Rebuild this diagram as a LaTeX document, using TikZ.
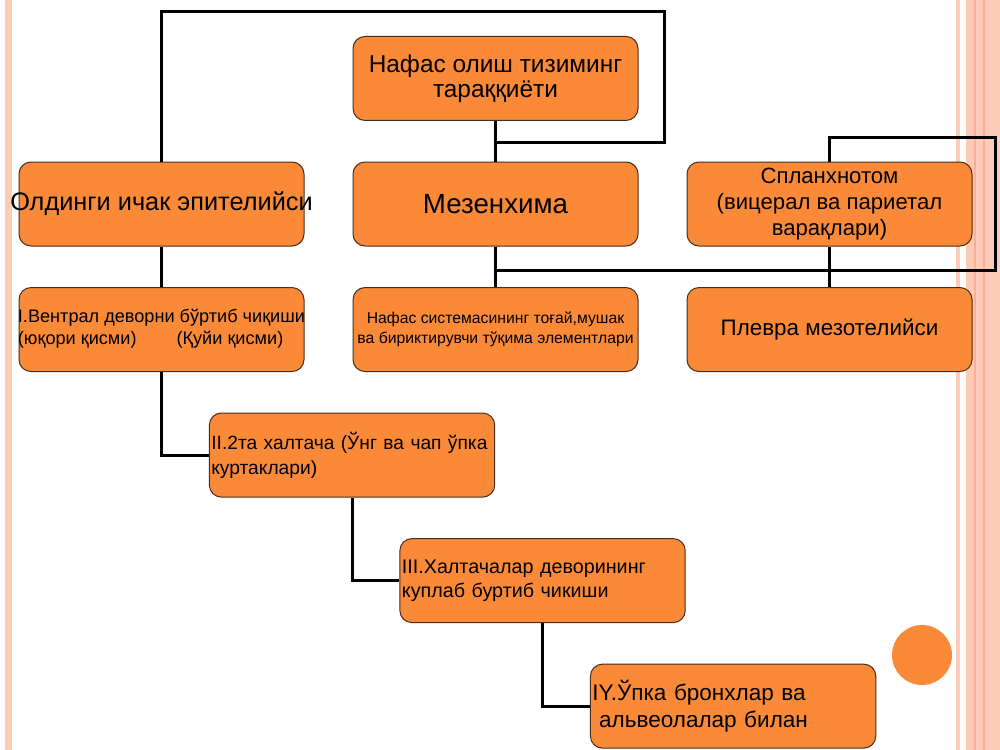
\documentclass[tikz,border=0pt]{standalone}
\usepackage{fontspec}
\setmainfont{Liberation Sans}
\usetikzlibrary{positioning}
\definecolor{boxfill}{RGB}{250,137,56}
\definecolor{boxline}{RGB}{70,45,30}
\definecolor{stripe}{RGB}{252,204,184}
\definecolor{stripedark}{RGB}{250,176,148}
\tikzset{
    block/.style={
           rectangle,
           rounded corners=9pt,
           fill=boxfill,
           draw=boxline, line width=0.75pt,
           minimum width=213.75pt,
           minimum height=63pt,
           inner sep=1.5pt,
           text centered,
           },
     stepblock/.style={
           block,
           text width=211pt,
           align=left,
           },
     link/.style={
           draw=black, line width=2.25pt,
           },
}
% text that may run over the edge of its box
\newcommand{\overrun}[1]{\makebox[210pt]{#1}}

\begin{document}
\begin{tikzpicture}[x=0.75pt, y=-0.75pt, node distance=30.4pt and 36pt]
	% background of the slide
	\fill[white] (0,0) rectangle (1000,750);
	\useasboundingbox (0,0) rectangle (1000,750);
	\fill[stripe] (5,0) rectangle (12,750);
	\fill[stripe] (956,0) rectangle (960,750);
	\fill[stripe] (966,0) rectangle (1000,750);
	\fill[stripedark] (974,0) rectangle (976,750);
	\fill[stripedark] (983,0) rectangle (985,750);
	\fill[boxfill] (922,655) circle (22.5pt);
	
	\node[block, font=\fontsize{20.8}{24}\selectfont] (mez) at (495.5,204) {Мезенхима};
	
	\node[block, above=of mez, align=center, font=\fontsize{18.3}{18.75}\selectfont] (origin) {
		Нафас олиш тизиминг\\
		тараққиёти
	};
	
	\node[block, left=of mez, font=\fontsize{19}{20}\selectfont] (epit) {\overrun{Олдинги ичак эпителийси}};
	
	\node[block, right=of mez, align=center, font=\fontsize{16.6}{19.5}\selectfont] (splanch) {
		Спланхнотом\\
		(вицерал ва париетал\\
		варақлари)
	};
	
	\node[block, below=of epit, font=\fontsize{13.6}{16.5}\selectfont] (ventral) {
		\overrun{\begin{tabular}{@{}l@{}}
		I.Вентрал деворни бўртиб чиқиши\\
		(юқори қисми)\hspace{2.2em}(Қуйи қисми)
		\end{tabular}}
	};
	
	\node[block, below=of mez, align=center, font=\fontsize{11.8}{15}\selectfont] (tissue) {
		Нафас системасининг тоғай,мушак\\
		ва бириктирувчи тўқима элементлари
	};
	
	\node[block, below=of splanch, font=\fontsize{16.8}{18}\selectfont] (pleura) {Плевра мезотелийси};
	
	\node[stepblock, below=of ventral, xshift=142.9pt, font=\fontsize{14.4}{18.75}\selectfont] (sac) {
		II.2та халтача (Ўнг ва чап ўпка\\
		куртаклари)
	};
	
	\node[stepblock, below=of sac, xshift=142.9pt, font=\fontsize{14.8}{18}\selectfont] (bud) {
		III.Халтачалар деворининг\\
		куплаб буртиб чикиши
	};
	
	\node[stepblock, below=of bud, xshift=142.9pt, font=\fontsize{16.9}{20}\selectfont] (alv) {
		IY.Ўпка бронхлар ва\\
		\hspace*{0.3em}альвеолалар билан
	};
	
	% loops round the top
	\coordinate (loopA) at (664,11);
	\coordinate (loopB) at ([yshift=14.25pt]mez.north);
	\coordinate (loopC) at (995,137);
	\coordinate (loopD) at ([yshift=-18pt]mez.south);
	
	\path[link]	(origin) edge (mez)
				(epit) edge (ventral)
				(mez) edge (tissue)
				(splanch) edge (pleura);
	\draw[link]	(epit.north) |- (loopA) |- (loopB);
	\draw[link]	(splanch.north) |- (loopC) |- (loopD);
	
	\draw[link]	(ventral.south) |- (sac.west);
	\draw[link]	(sac.south) |- (bud.west);
	\draw[link]	(bud.south) |- (alv.west);
\end{tikzpicture}
\end{document}
